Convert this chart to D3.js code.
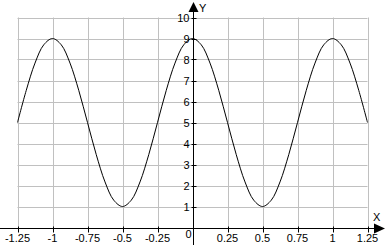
<!DOCTYPE html>
<html>
<head>
<meta charset="utf-8">
<script src="https://cdn.jsdelivr.net/npm/d3@7"></script>
<style>
  html, body { margin: 0; padding: 0; background: #fff; }
  svg { display: block; }
  text { font-family: "Liberation Sans", Arial, sans-serif; font-size: 11px; fill: #000; }
</style>
</head>
<body>
<div id="chart"></div>
<script>
// x/y tick values and labels
const xTicks = [-1.25, -1, -0.75, -0.5, -0.25, 0, 0.25, 0.5, 0.75, 1, 1.25];
const xTickLabels = ["-1.25", "-1", "-0.75", "-0.5", "-0.25", "0", "0.25", "0.5", "0.75", "1", "1.25"];
const yTicks = [1, 2, 3, 4, 5, 6, 7, 8, 9, 10];

// curve samples (step 0.0625)
const curveX = [-1.25, -1.1875, -1.125, -1.0625, -1, -0.9375, -0.875, -0.8125, -0.75, -0.6875,
    -0.625, -0.5625, -0.5, -0.4375, -0.375, -0.3125, -0.25, -0.1875, -0.125, -0.0625,
    0, 0.0625, 0.125, 0.1875, 0.25, 0.3125, 0.375, 0.4375, 0.5, 0.5625,
    0.625, 0.6875, 0.75, 0.8125, 0.875, 0.9375, 1, 1.0625, 1.125, 1.1875, 1.25];
const curveY = [5, 6.53, 7.83, 8.7, 9, 8.7, 7.83, 6.53, 5, 3.47,
    2.17, 1.3, 1, 1.3, 2.17, 3.47, 5, 6.53, 7.83, 8.7,
    9, 8.7, 7.83, 6.53, 5, 3.47, 2.17, 1.3, 1, 1.3,
    2.17, 3.47, 5, 6.53, 7.83, 8.7, 9, 8.7, 7.83, 6.53, 5];

const width = 386;
const height = 245;

const x = d3.scaleLinear().domain([-1.25, 1.25]).range([17.5, 367.5]);
const y = d3.scaleLinear().domain([0, 10]).range([227.5, 17.5]);

const svg = d3.select("#chart")
    .append("svg")
    .attr("width", width)
    .attr("height", height);

// grid
svg.append("g")
    .selectAll("line")
    .data(xTicks.filter(d => d !== 0))
    .join("line")
    .attr("x1", d => Math.round(x(d)) + 0.5)
    .attr("x2", d => Math.round(x(d)) + 0.5)
    .attr("y1", y(10))
    .attr("y2", y(0))
    .attr("stroke", "#c0c0c0");

svg.append("g")
    .selectAll("line")
    .data(yTicks)
    .join("line")
    .attr("x1", x(-1.25))
    .attr("x2", x(1.25))
    .attr("y1", d => Math.round(y(d)) + 0.5)
    .attr("y2", d => Math.round(y(d)) + 0.5)
    .attr("stroke", "#c0c0c0");

// axes
const x0 = Math.round(x(0)) + 0.5;
const y0 = Math.round(y(0)) + 0.5;

svg.append("line")
    .attr("x1", 0).attr("x2", 378)
    .attr("y1", y0).attr("y2", y0)
    .attr("stroke", "#000");

svg.append("line")
    .attr("x1", x0).attr("x2", x0)
    .attr("y1", 8).attr("y2", height)
    .attr("stroke", "#000");

// arrows
svg.append("path")
    .attr("d", `M${x0},2 L${x0 - 5},12 L${x0 + 5},12 Z`)
    .attr("fill", "#000");
svg.append("path")
    .attr("d", `M385,${y0} L374,${y0 - 5} L374,${y0 + 5} Z`)
    .attr("fill", "#000");

svg.append("text").attr("x", 199).attr("y", 12).text("Y");
svg.append("text").attr("x", 373).attr("y", 221).text("X");

// x ticks + labels
const xt = svg.append("g");
xt.selectAll("line")
    .data(xTicks.filter(d => d !== 0))
    .join("line")
    .attr("x1", d => Math.round(x(d)) + 0.5)
    .attr("x2", d => Math.round(x(d)) + 0.5)
    .attr("y1", y0 - 2)
    .attr("y2", y0 + 4)
    .attr("stroke", "#000");
xt.selectAll("text")
    .data(xTicks)
    .join("text")
    .attr("x", d => d === 0 ? x0 - 2 : x(d))
    .attr("y", d => d === 0 ? 238 : 242)
    .attr("text-anchor", (d, i) => d === 0 ? "end" : "middle")
    .text((d, i) => xTickLabels[i]);

// y ticks + labels
const yt = svg.append("g");
yt.selectAll("line")
    .data(yTicks)
    .join("line")
    .attr("x1", x0 - 2)
    .attr("x2", x0 + 3)
    .attr("y1", d => Math.round(y(d)) + 0.5)
    .attr("y2", d => Math.round(y(d)) + 0.5)
    .attr("stroke", "#000");
yt.selectAll("text")
    .data(yTicks)
    .join("text")
    .attr("x", x0 - 4)
    .attr("y", d => y(d) + 4)
    .attr("text-anchor", "end")
    .text(d => d);

// curve
const points = curveX.map((d, i) => [d, curveY[i]]);
svg.append("path")
    .datum(points)
    .attr("fill", "none")
    .attr("stroke", "#000")
    .attr("stroke-width", 1)
    .attr("d", d3.line()
        .x(d => x(d[0]))
        .y(d => y(d[1]))
        .curve(d3.curveCatmullRom));
</script>
</body>
</html>
